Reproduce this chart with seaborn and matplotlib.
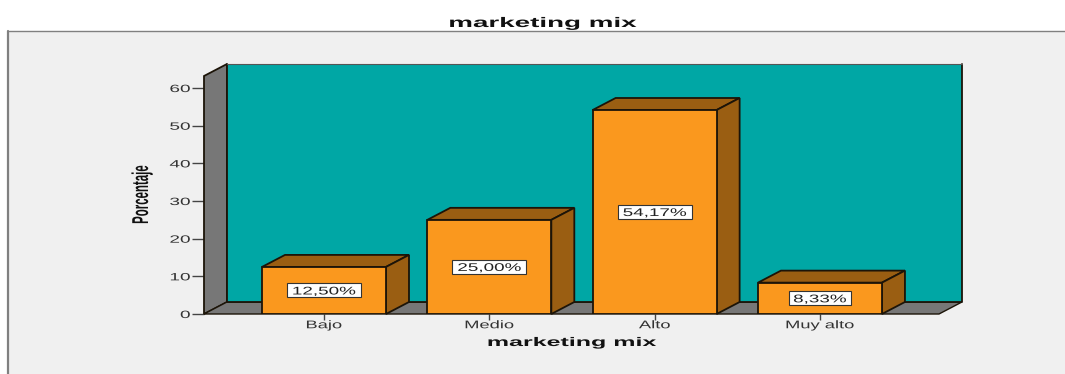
import matplotlib
matplotlib.use("Agg")
import matplotlib.pyplot as plt
from matplotlib.patches import Rectangle
from matplotlib.lines import Line2D
from matplotlib.patheffects import AbstractPathEffect
from matplotlib.transforms import Affine2D, ScaledTranslation
import seaborn as sns

categories = ["Bajo", "Medio", "Alto", "Muy alto"]
percentages = [12.50, 25.00, 54.17, 8.33]
value_labels = ["12,50%", "25,00%", "54,17%", "8,33%"]
y_ticks = [0, 10, 20, 30, 40, 50, 60]

TEAL = "#00A7A5"
ORANGE = "#FA981E"
BROWN = "#9A5E12"
GRAY = "#777777"
EDGE = "#1C1408"
W, H = 1065, 374


class GlyphStretch(AbstractPathEffect):
    """Scale a text run along its own baseline, keeping one end or the middle fixed."""

    def __init__(self, factor, anchor="center"):
        super().__init__()
        self.factor = factor
        self.anchor = anchor

    def draw_path(self, renderer, gc, tpath, affine, rgbFace=None):
        box = tpath.get_extents()
        fixed = box.x1 if self.anchor == "right" else (box.x0 + box.x1) / 2
        stretch = Affine2D().translate(-fixed, 0).scale(self.factor, 1).translate(fixed, 0)
        renderer.draw_path(gc, tpath, stretch + affine, rgbFace)


sns.set_theme(style="white")
plt.rcParams["font.family"] = ["Liberation Sans"]

fig = plt.figure(figsize=(W / 100, H / 100), dpi=100, facecolor="white")

# Light chart frame, open at the right and bottom
fig.add_artist(Rectangle((8 / W, 0), (W - 8) / W, (H - 31) / H, transform=fig.transFigure,
                         facecolor="#F0F0F0", edgecolor="none", zorder=-5))
fig.add_artist(Line2D([8 / W, 1], [(H - 31) / H, (H - 31) / H], transform=fig.transFigure,
                      color="#808080", lw=1.0, zorder=-4))
fig.add_artist(Line2D([8 / W, 8 / W], [0, (H - 31) / H], transform=fig.transFigure,
                      color="#808080", lw=1.6, zorder=-4))

ax = fig.add_axes([204 / W, (H - 314) / H, 735 / W, 238 / H])
ax.patch.set_visible(False)
for spine in ax.spines.values():
    spine.set_visible(False)

bar_width = 0.75
sns.barplot(x=categories, y=percentages, color=ORANGE, saturation=1, width=bar_width,
            edgecolor=EDGE, linewidth=1.3, zorder=4, ax=ax)

x_left, x_right = -0.726, 3.72
y_top = 63.2
ax.set_xlim(x_left, x_right)
ax.set_ylim(0, y_top)

# Depth offset of the pseudo-3D box, in data units
dx, dy = 0.139, 3.19

ax.fill([x_left, x_left, x_left + dx, x_left + dx], [0, y_top, y_top + dy, dy],
        facecolor=GRAY, edgecolor=EDGE, lw=1.3, clip_on=False, zorder=1)
ax.fill([x_left, x_right, x_right + dx, x_left + dx], [0, 0, dy, dy],
        facecolor=GRAY, edgecolor=EDGE, lw=1.0, clip_on=False, zorder=1)
ax.fill([x_left + dx, x_right + dx, x_right + dx, x_left + dx], [dy, dy, y_top + dy, y_top + dy],
        facecolor=TEAL, edgecolor="none", clip_on=False, zorder=2)
ax.plot([x_left + dx, x_left + dx, x_right + dx, x_right + dx],
        [y_top + dy, dy, dy, y_top + dy], color=EDGE, lw=1.3, clip_on=False, zorder=2.5)
ax.plot([x_left + dx, x_right + dx], [y_top + dy, y_top + dy], color="#555555", lw=0.8,
        clip_on=False, zorder=2.6)

# Top and side faces of each bar, then its value box
for i, (value, label) in enumerate(zip(percentages, value_labels)):
    x0, x1 = i - bar_width / 2, i + bar_width / 2
    ax.fill([x0, x1, x1 + dx, x0 + dx], [value, value, value + dy, value + dy],
            facecolor=BROWN, edgecolor=EDGE, lw=1.3, clip_on=False, zorder=3)
    ax.fill([x1, x1 + dx, x1 + dx, x1], [0, dy, value + dy, value],
            facecolor=BROWN, edgecolor=EDGE, lw=1.3, clip_on=False, zorder=3)

    box_w, box_h = (12 * len(label) + 2) / 100, 0.14
    anchor = fig.dpi_scale_trans + ScaledTranslation(i, value / 2, ax.transData)
    ax.add_patch(Rectangle((-box_w / 2 + 0.01, -box_h / 2 - 0.01), box_w, box_h, transform=anchor,
                           facecolor="#8A8A8A", edgecolor="none", clip_on=False, zorder=5))
    ax.add_patch(Rectangle((-box_w / 2, -box_h / 2), box_w, box_h, transform=anchor,
                           facecolor="white", edgecolor="#333333", lw=0.8, clip_on=False, zorder=5.5))
    ax.text(i, value / 2, label, ha="center", va="center_baseline", fontsize=8, color="#222222", zorder=6,
            path_effects=[GlyphStretch(1.7)])

ax.set_yticks(y_ticks)
ax.tick_params(axis="y", left=True, length=8.5, width=1.0, color="#444444", labelsize=7.6,
               labelcolor="#333333", pad=1.5)
ax.tick_params(axis="x", bottom=True, length=4, width=1.0, color="#444444", labelsize=8,
               labelcolor="#333333", pad=0.5)
for tick_label in ax.get_yticklabels():
    tick_label.set_path_effects([GlyphStretch(1.8, anchor="right")])
for tick_label in ax.get_xticklabels():
    tick_label.set_path_effects([GlyphStretch(1.65)])

fig.text(543 / W, 1 - 23 / H, "marketing mix", ha="center", va="center", fontsize=10,
         fontweight="bold", color="#111111", path_effects=[GlyphStretch(2.0)])
fig.text(572 / W, 1 - 343 / H, "marketing mix", ha="center", va="center", fontsize=9,
         fontweight="bold", color="#111111", path_effects=[GlyphStretch(2.0)])

# Rotated axis title: squeezed along its reading direction
fig.text(141.5 / W, 1 - 195 / H, "Porcentaje", rotation=90, ha="center", va="center", fontsize=16.5,
         fontweight="bold", color="#111111", path_effects=[GlyphStretch(0.5)])
ax.set_xlabel("")
ax.set_ylabel("")

fig.savefig("out.png", dpi=100, facecolor="white")
